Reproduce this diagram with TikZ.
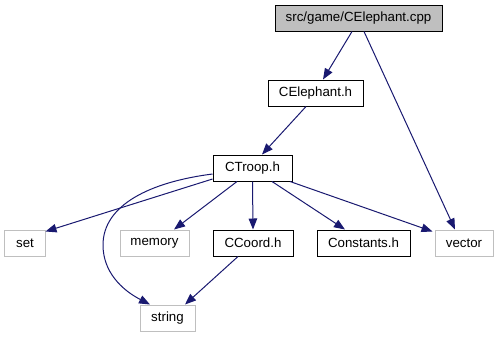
\documentclass[tikz,border=0pt]{standalone}
\usepackage{fontspec}
\setmainfont{Liberation Sans}
\usetikzlibrary{arrows.meta}
\definecolor{edgeblue}{HTML}{191970}
\definecolor{sysgray}{HTML}{BFBFBF}
\tikzset{
  filebox/.style={draw=black, line width=1bp, fill=white, minimum height=26bp,
    inner sep=0pt, font=\fontsize{13.3bp}{16bp}\selectfont},
  mainbox/.style={filebox, fill=sysgray},
  sysbox/.style={filebox, draw=sysgray},
  dep/.style={draw=edgeblue, line width=1bp,
    -{Triangle[length=11bp,width=8.5bp]}, color=edgeblue},
}
\begin{document}
\begin{tikzpicture}[x=1bp, y=-1bp]
\useasboundingbox (0,0) rectangle (499,336);
% files
\node[mainbox, minimum width=167bp] (cpp) at (358.5,18) {src/game/CElephant.cpp};
\node[filebox, minimum width=95bp] (ceh) at (315.5,93) {CElephant.h};
\node[filebox, minimum width=79bp] (troop) at (252.5,168) {CTroop.h};
\node[sysbox, minimum width=40bp] (set) at (25,243) {set};
\node[sysbox, minimum width=69bp] (memory) at (154.5,243) {memory};
\node[filebox, minimum width=80bp] (ccoord) at (253,243) {CCoord.h};
\node[filebox, minimum width=93bp] (constants) at (363.5,243) {Constants.h};
\node[sysbox, minimum width=58bp] (vector) at (464,243) {vector};
\node[sysbox, minimum width=55bp] (string) at (167.5,318) {string};
% include edges
\draw[dep] ([xshift=-6.5bp]cpp.south) -- ([xshift=7.5bp]ceh.north);
\draw[dep] ([xshift=5.5bp]cpp.south) -- ([xshift=-9bp]vector.north);
\draw[dep] ([xshift=-9.5bp]ceh.south) -- ([xshift=9.5bp]troop.north);
\draw[dep] ([yshift=-11bp]troop.west) -- ([yshift=-2bp]set.north east);
\draw[dep] ([yshift=-6bp]troop.west)
  .. controls (150,182) and (103,205) .. (103,245)
  .. controls (103,272) and (122,290) .. ([xshift=-17.5bp]string.north);
\draw[dep] ([xshift=-15.5bp]troop.south) -- ([xshift=19.5bp]memory.north);
\draw[dep] (troop.south) -- (ccoord.north);
\draw[dep] ([xshift=19.5bp]troop.south) -- ([xshift=-18.5bp]constants.north);
\draw[dep] ([xshift=-2.5bp]troop.south east) -- ([xshift=-2bp,yshift=-2bp]vector.north west);
\draw[dep] ([xshift=-15bp]ccoord.south) -- ([xshift=17.5bp]string.north);
\end{tikzpicture}
\end{document}
